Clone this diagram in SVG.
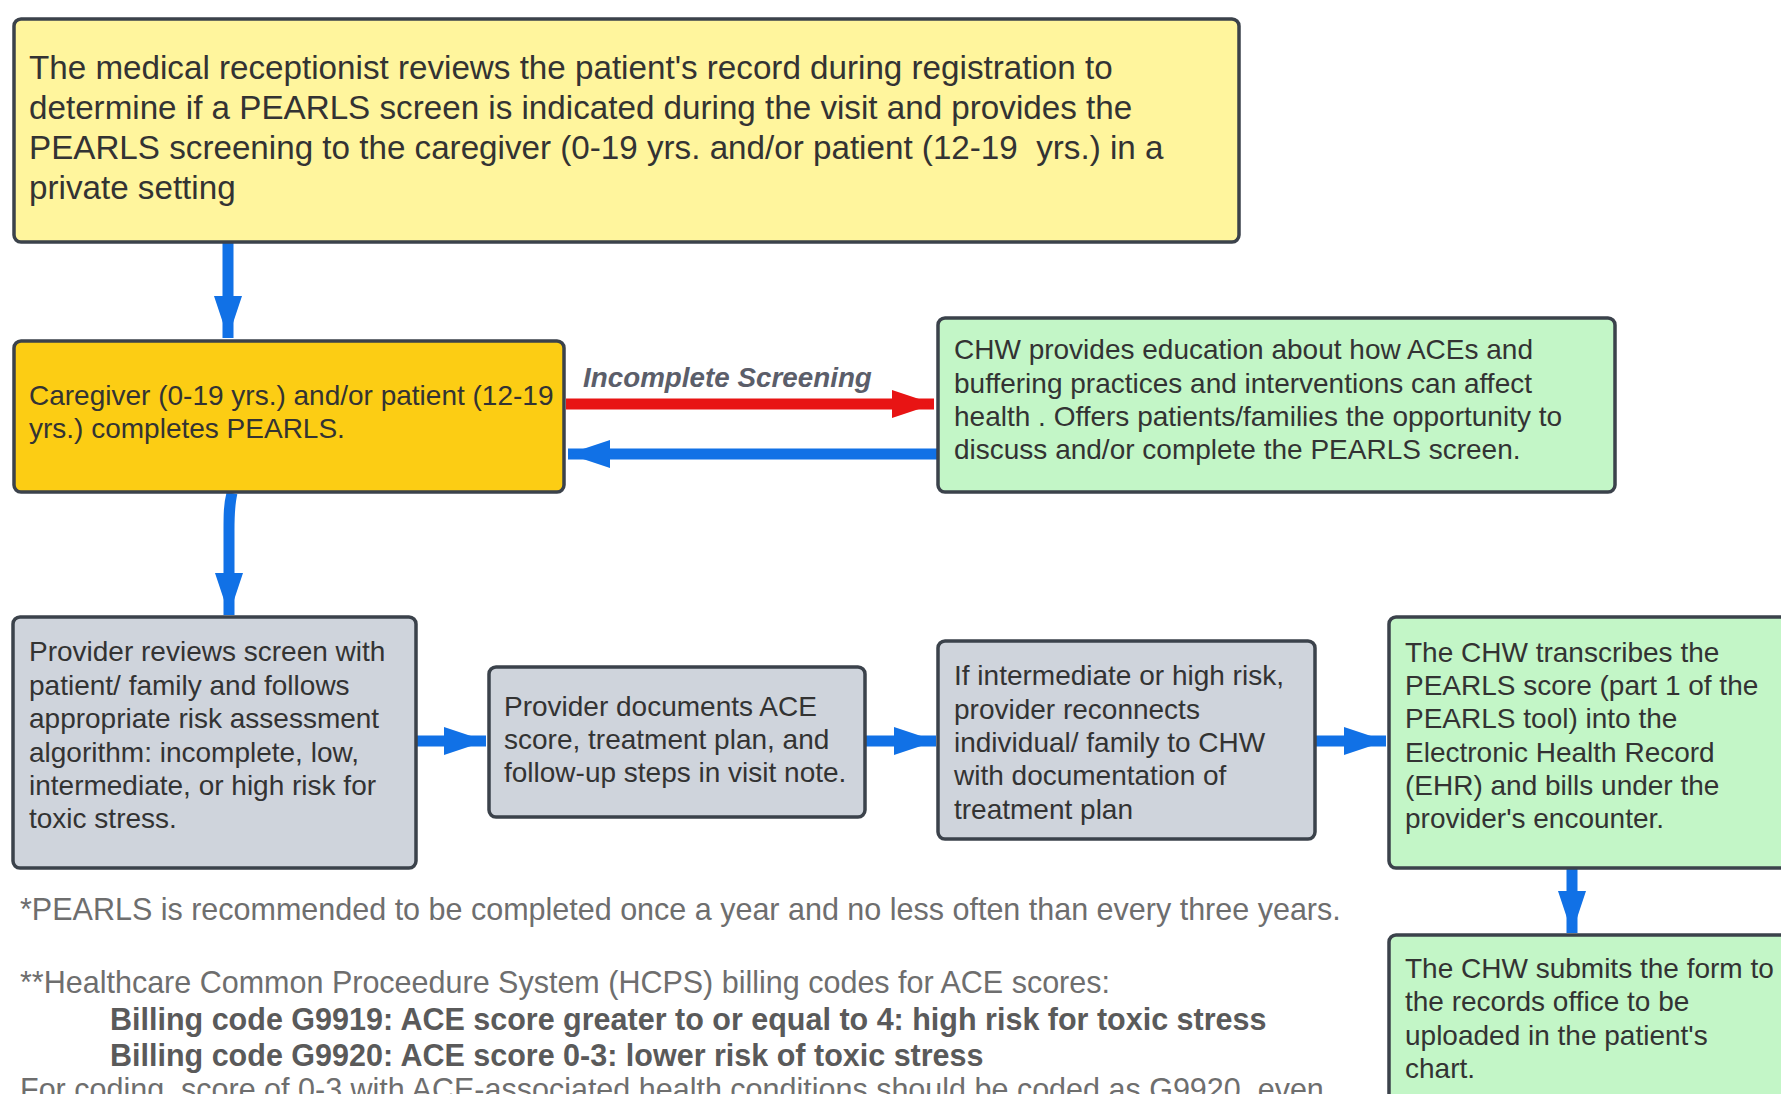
<svg xmlns="http://www.w3.org/2000/svg" width="1781" height="1094" viewBox="0 0 1781 1094">
<style>
.box{stroke:#3b424b;stroke-width:3.5}
.t{font-family:"Liberation Sans",Arial,sans-serif;font-size:28px;fill:#333}
.t1{font-family:"Liberation Sans",Arial,sans-serif;font-size:33.2px;fill:#333}
.fn{font-family:"Liberation Sans",Arial,sans-serif;font-size:30.5px;fill:#6e6e6e}
.fb{font-family:"Liberation Sans",Arial,sans-serif;font-size:30.5px;font-weight:bold;fill:#5a5a5a}
.lbl{font-family:"Liberation Sans",Arial,sans-serif;font-size:27.8px;font-weight:bold;font-style:italic;fill:#5b5e6a}
.blue{stroke:#1171e6;stroke-width:11;fill:none}
.red{stroke:#e81414;stroke-width:11;fill:none}
</style>
<defs>
<marker id="ab" markerUnits="userSpaceOnUse" markerWidth="44" markerHeight="30" refX="42" refY="14" orient="auto"><path d="M0,0 L42,14 L0,28 z" fill="#1171e6"/></marker>
<marker id="ar" markerUnits="userSpaceOnUse" markerWidth="44" markerHeight="30" refX="42" refY="14" orient="auto"><path d="M0,0 L42,14 L0,28 z" fill="#e81414"/></marker>
</defs>
<rect width="1781" height="1094" fill="#fff"/>
<g id="connectors">
<path class="blue" d="M228 243 L228 338" marker-end="url(#ab)"/>
<path class="blue" d="M232 493 C229 505 229 515 229 530 L229 615" marker-end="url(#ab)"/>
<path class="red" d="M566 404 L934 404" marker-end="url(#ar)"/>
<text class="lbl" x="583" y="387">Incomplete Screening</text>
<path class="blue" d="M938 454 L568 454" marker-end="url(#ab)"/>
<path class="blue" d="M417 741 L486 741" marker-end="url(#ab)"/>
<path class="blue" d="M866 741 L936 741" marker-end="url(#ab)"/>
<path class="blue" d="M1316 741 L1386 741" marker-end="url(#ab)"/>
<path class="blue" d="M1572 869 L1572 933" marker-end="url(#ab)"/>
</g>
<g id="n1">
<rect class="box" x="14" y="19" width="1225" height="223" rx="7" fill="#fff59d"/>
<text class="t1" x="29" y="79">The medical receptionist reviews the patient's record during registration to</text>
<text class="t1" x="29" y="119">determine if a PEARLS screen is indicated during the visit and provides the</text>
<text class="t1" x="29" y="159" xml:space="preserve">PEARLS screening to the caregiver (0-19 yrs. and/or patient (12-19  yrs.) in a</text>
<text class="t1" x="29" y="199">private setting</text>
</g>
<g id="n2">
<rect class="box" x="14" y="341" width="550" height="151" rx="7" fill="#fccd14"/>
<text class="t" x="29" y="405">Caregiver (0-19 yrs.) and/or patient (12-19</text>
<text class="t" x="29" y="438">yrs.) completes PEARLS.</text>
</g>
<g id="n3">
<rect class="box" x="938" y="318" width="677" height="174" rx="7" fill="#c3f6c7"/>
<text class="t" x="954" y="359">CHW provides education about how ACEs and</text>
<text class="t" x="954" y="393">buffering practices and interventions can affect</text>
<text class="t" x="954" y="426">health . Offers patients/families the opportunity to</text>
<text class="t" x="954" y="459">discuss and/or complete the PEARLS screen.</text>
</g>
<g id="n4">
<rect class="box" x="13" y="617" width="403" height="251" rx="7" fill="#cfd4dc"/>
<text class="t" x="29" y="661">Provider reviews screen with</text>
<text class="t" x="29" y="695">patient/ family and follows</text>
<text class="t" x="29" y="728">appropriate risk assessment</text>
<text class="t" x="29" y="762">algorithm: incomplete, low,</text>
<text class="t" x="29" y="795">intermediate, or high risk for</text>
<text class="t" x="29" y="828">toxic stress.</text>
</g>
<g id="n5">
<rect class="box" x="489" y="667" width="376" height="150" rx="7" fill="#cfd4dc"/>
<text class="t" x="504" y="716">Provider documents ACE</text>
<text class="t" x="504" y="749">score, treatment plan, and</text>
<text class="t" x="504" y="782">follow-up steps in visit note.</text>
</g>
<g id="n6">
<rect class="box" x="938" y="641" width="377" height="198" rx="7" fill="#cfd4dc"/>
<text class="t" x="954" y="685">If intermediate or high risk,</text>
<text class="t" x="954" y="719">provider reconnects</text>
<text class="t" x="954" y="752">individual/ family to CHW</text>
<text class="t" x="954" y="785">with documentation of</text>
<text class="t" x="954" y="819">treatment plan</text>
</g>
<g id="n7">
<rect class="box" x="1389" y="617" width="420" height="251" rx="7" fill="#c3f6c7"/>
<text class="t" x="1405" y="662">The CHW transcribes the</text>
<text class="t" x="1405" y="695">PEARLS score (part 1 of the</text>
<text class="t" x="1405" y="728">PEARLS tool) into the</text>
<text class="t" x="1405" y="762">Electronic Health Record</text>
<text class="t" x="1405" y="795">(EHR) and bills under the</text>
<text class="t" x="1405" y="828">provider's encounter.</text>
</g>
<g id="n8">
<rect class="box" x="1389" y="935" width="420" height="200" rx="7" fill="#c3f6c7"/>
<text class="t" x="1405" y="978">The CHW submits the form to</text>
<text class="t" x="1405" y="1011">the records office to be</text>
<text class="t" x="1405" y="1045">uploaded in the patient's</text>
<text class="t" x="1405" y="1078">chart.</text>
</g>
<g id="notes">
<text class="fn" x="20" y="920">*PEARLS is recommended to be completed once a year and no less often than every three years.</text>
<text class="fn" x="20" y="993">**Healthcare Common Proceedure System (HCPS) billing codes for ACE scores:</text>
<text class="fb" x="110" y="1030">Billing code G9919: ACE score greater to or equal to 4: high risk for toxic stress</text>
<text class="fb" x="110" y="1066">Billing code G9920: ACE score 0-3: lower risk of toxic stress</text>
<text class="fn" x="20" y="1100">For coding, score of 0-3 with ACE-associated health conditions should be coded as G9920, even</text>
</g>
</svg>
